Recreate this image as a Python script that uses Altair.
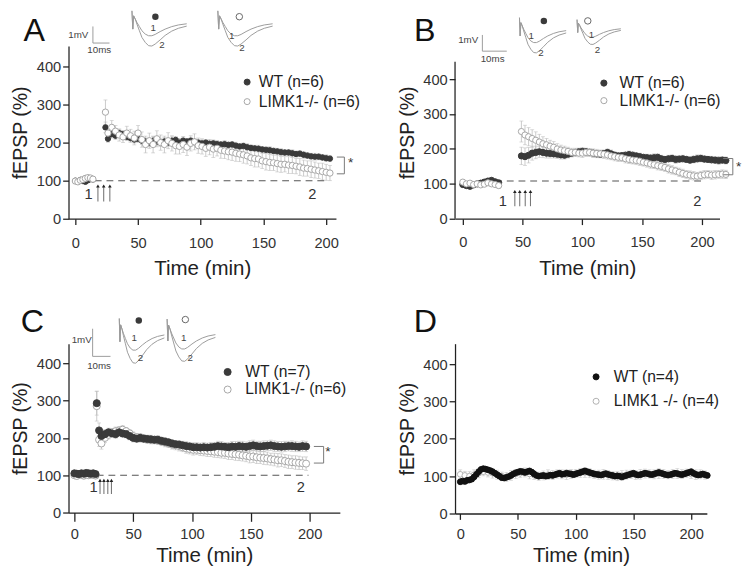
import altair as alt
import pandas as pd

FONT = "Liberation Sans"

# ---------------- Panel A ----------------
a_pre_t = [0, 2, 4, 6, 8, 10, 12, 14]
a_pre_wt = [100, 98, 102, 99, 97, 101, 104, 103]
a_pre_wt_err = [5, 4, 5, 4, 5, 4, 5, 5]
a_pre_ko = [99, 97, 101, 103, 106, 108, 107, 104]
a_pre_ko_err = [6, 5, 6, 6, 7, 6, 6, 6]
a_post_t = [24, 26, 29, 32, 35, 38, 41, 44, 47, 50,
            53, 56, 59, 62, 65, 68, 71, 74, 77, 80,
            83, 86, 89, 92, 95, 98, 101, 104, 107, 110,
            113, 116, 119, 122, 125, 128, 131, 134, 137, 140,
            143, 146, 149, 152, 155, 158, 161, 164, 167, 170,
            173, 176, 179, 182, 185, 188, 191, 194, 197, 200,
            203]
a_post_wt = [240, 210, 222, 218, 225, 222, 215, 212, 208, 210,
             205, 203, 200, 205, 202, 200, 203, 200, 205, 207,
             200, 205, 203, 205, 202, 200, 198, 200, 197, 198,
             196, 195, 196, 194, 195, 192, 190, 191, 188, 186,
             185, 184, 182, 181, 180, 178, 177, 175, 174, 174,
             172, 170, 171, 168, 166, 164, 163, 163, 161, 159,
             158]
a_post_wt_err = [14, 9, 10, 10, 9, 10, 9, 10, 9, 10,
                 10, 9, 10, 10, 9, 10, 10, 9, 10, 9,
                 10, 9, 8, 9, 8, 8, 9, 8, 8, 9,
                 8, 8, 9, 8, 8, 9, 8, 8, 9, 8,
                 8, 9, 8, 8, 9, 8, 8, 9, 8, 8,
                 9, 8, 8, 9, 8, 8, 9, 8, 8, 9,
                 8]
a_post_ko = [280, 225, 240, 230, 220, 215, 225, 218, 212, 225,
             208, 195, 205, 195, 210, 200, 195, 205, 198, 192,
             190, 195, 188, 198, 202, 192, 190, 185, 188, 183,
             185, 180, 178, 176, 175, 172, 170, 168, 165, 160,
             158, 157, 152, 150, 148, 147, 145, 143, 143, 141,
             140, 138, 136, 133, 132, 130, 128, 126, 124, 122,
             120]
a_post_ko_err = [32, 16, 18, 15, 16, 15, 18, 17, 18, 20,
                 20, 22, 20, 22, 21, 20, 22, 21, 20, 22,
                 20, 21, 22, 20, 21, 20, 20, 21, 20, 22,
                 20, 21, 20, 21, 22, 21, 20, 22, 21, 20,
                 22, 21, 20, 22, 21, 20, 22, 21, 20, 22,
                 21, 20, 22, 21, 20, 22, 21, 20, 22, 21,
                 20]

# ---------------- Panel B ----------------
b_pre_t = [0, 3, 6, 9, 12, 15, 18, 21, 24, 27, 30]
b_pre_wt = [98, 95, 93, 97, 100, 102, 105, 108, 110, 106, 103]
b_pre_wt_err = [6, 5, 5, 5, 6, 5, 6, 6, 8, 7, 6]
b_pre_ko = [105, 100, 102, 98, 100, 97, 99, 103, 100, 98, 95]
b_pre_ko_err = [6, 6, 5, 6, 5, 6, 6, 6, 7, 6, 8]
b_post_t = [49, 52, 55, 58, 61, 64, 67, 70, 73, 76,
            79, 82, 85, 88, 91, 94, 97, 100, 103, 106,
            109, 112, 115, 118, 121, 124, 127, 130, 133, 136,
            139, 142, 145, 148, 151, 154, 157, 160, 163, 166,
            169, 172, 175, 178, 181, 184, 187, 190, 193, 196,
            199, 202, 205, 208, 211, 214, 217, 220]
b_post_wt = [180, 178, 182, 188, 190, 192, 190, 188, 187, 186,
             185, 183, 182, 185, 188, 190, 192, 193, 192, 190,
             188, 186, 185, 187, 190, 186, 182, 180, 181, 182,
             184, 182, 180, 178, 176, 175, 174, 175, 176, 172,
             170, 172, 173, 170, 171, 172, 170, 168, 170, 172,
             173, 171, 170, 169, 168, 167, 168, 167]
b_post_wt_err = [25, 25, 22, 20, 18, 16, 15, 14, 13, 12,
                 12, 12, 11, 11, 11, 10, 10, 11, 10, 10,
                 11, 10, 10, 9, 10, 11, 10, 10, 9, 10,
                 10, 11, 10, 10, 9, 10, 10, 11, 10, 10,
                 9, 10, 10, 11, 10, 10, 9, 10, 10, 11,
                 10, 10, 9, 10, 10, 11, 10, 10]
b_post_ko = [250, 240, 235, 230, 225, 220, 215, 212, 208, 205,
             200, 197, 195, 193, 190, 190, 188, 188, 190, 190,
             188, 187, 186, 185, 183, 180, 178, 176, 175, 172,
             170, 168, 167, 165, 162, 160, 157, 155, 152, 150,
             147, 143, 140, 137, 133, 130, 127, 125, 123, 122,
             124, 126, 127, 125, 126, 127, 128, 127]
b_post_ko_err = [30, 28, 26, 25, 24, 22, 20, 18, 17, 16,
                 15, 14, 13, 12, 12, 12, 11, 12, 12, 11,
                 12, 12, 11, 12, 12, 11, 12, 12, 11, 12,
                 12, 11, 12, 12, 11, 12, 12, 11, 12, 12,
                 11, 12, 12, 11, 12, 12, 11, 12, 12, 11,
                 12, 12, 11, 12, 12, 11, 12, 12]

# ---------------- Panel C ----------------
c_pre_t = [0, 2, 4, 6, 8, 10, 12, 14, 16, 18]
c_pre_wt = [105, 104, 103, 105, 104, 106, 105, 104, 105, 103]
c_pre_wt_err = [8, 7, 8, 7, 8, 7, 8, 7, 8, 7]
c_pre_ko = [100, 98, 102, 101, 99, 103, 100, 102, 101, 99]
c_pre_ko_err = [9, 8, 9, 8, 9, 8, 9, 8, 9, 8]
c_post_t = [19, 21, 23, 26, 29, 32, 35, 38, 41, 44,
            47, 50, 53, 56, 59, 62, 65, 68, 71, 74,
            77, 80, 83, 86, 89, 92, 95, 98, 101, 104,
            107, 110, 113, 116, 119, 122, 125, 128, 131, 134,
            137, 140, 143, 146, 149, 152, 155, 158, 161, 164,
            167, 170, 173, 176, 179, 182, 185, 188, 191, 194,
            197]
c_post_wt = [293, 220, 205, 210, 215, 212, 210, 215, 212, 210,
             205, 200, 198, 200, 198, 197, 196, 195, 195, 192,
             190, 188, 185, 183, 182, 180, 178, 177, 175, 175,
             174, 175, 174, 175, 176, 178, 177, 176, 175, 177,
             176, 178, 177, 176, 178, 180, 178, 177, 178, 179,
             180, 178, 177, 176, 177, 178, 178, 177, 176, 178,
             177]
c_post_wt_err = [32, 20, 15, 12, 11, 10, 11, 10, 11, 10,
                 10, 11, 10, 11, 10, 10, 11, 10, 11, 10,
                 11, 10, 11, 10, 11, 11, 12, 11, 12, 12,
                 12, 13, 12, 13, 12, 13, 13, 12, 13, 13,
                 14, 13, 14, 13, 14, 14, 13, 14, 14, 13,
                 14, 14, 13, 14, 14, 13, 14, 14, 13, 14,
                 14]
c_post_ko = [285, 195, 185, 200, 208, 215, 218, 220, 222, 218,
             212, 205, 202, 200, 198, 196, 195, 194, 193, 190,
             188, 185, 182, 180, 178, 175, 172, 170, 168, 168,
             167, 166, 165, 164, 163, 162, 160, 160, 158, 157,
             156, 155, 153, 152, 150, 150, 148, 147, 146, 145,
             143, 142, 140, 140, 138, 136, 135, 134, 133, 132,
             131]
c_post_ko_err = [40, 18, 15, 12, 11, 10, 11, 10, 11, 10,
                 10, 11, 10, 11, 10, 11, 11, 10, 11, 11,
                 12, 11, 12, 12, 13, 12, 13, 13, 14, 13,
                 14, 14, 15, 14, 15, 15, 14, 15, 16, 15,
                 16, 16, 15, 16, 17, 16, 17, 16, 17, 17,
                 16, 17, 18, 17, 17, 18, 17, 18, 18, 17,
                 18]

# ---------------- Panel D ----------------
d_wt_t = [0, 2, 4, 6, 8, 10, 12, 14, 16, 18, 20, 22, 24, 26, 28, 30, 32, 34,
          36, 38, 40, 42, 44, 46, 48, 50, 52, 54, 56, 58, 60, 62, 64, 66,
          68, 70, 72, 74, 76, 78, 80, 82, 84, 86, 88, 90, 92, 94, 96, 98, 100,
          102, 104, 106, 108, 110, 112, 114, 116, 118, 120,
          122, 124, 126, 128, 130, 132, 134, 136, 138, 140,
          142, 144, 146, 148, 150, 152, 154, 156, 158, 160,
          162, 164, 166, 168, 170, 172, 174, 176, 178, 180,
          182, 184, 186, 188, 190, 192, 194, 196, 198, 200,
          202, 204, 206, 208, 210, 212, 214]
d_wt = [85, 87, 86, 89, 90, 92, 98, 105, 112, 118, 120, 119, 117, 115, 112, 108, 104, 100,
        96, 95, 97, 99, 102, 106, 109, 111, 113, 112, 110, 112, 114, 111, 106, 102,
        100, 101, 102, 100, 101, 103, 102, 104, 106, 108, 105, 106, 108, 107, 106, 104, 106,
        108, 110, 112, 114, 112, 110, 108, 106, 105, 104,
        103, 105, 107, 105, 103, 102, 100, 101, 100, 98,
        100, 102, 104, 106, 108, 105, 103, 104, 106, 108,
        107, 105, 104, 106, 108, 110, 108, 106, 104, 103,
        104, 106, 108, 107, 105, 104, 106, 108, 110, 112,
        108, 105, 103, 104, 106, 104, 102]
d_wt_err = [8, 7, 8, 7, 8, 7, 8, 7, 8, 7, 8, 7, 8, 7, 8, 7, 8, 7,
            8, 7, 8, 7, 8, 7, 8, 7, 8, 7, 8, 7, 8, 7, 8, 7,
            8, 7, 8, 7, 8, 7, 8, 7, 8, 7, 8, 7, 8, 7, 8, 7, 8,
            7, 8, 7, 8, 7, 8, 7, 8, 7, 8,
            7, 8, 7, 8, 7, 8, 7, 8, 7, 8,
            7, 8, 7, 8, 7, 8, 7, 8, 7, 8,
            7, 8, 7, 8, 7, 8, 7, 8, 7, 8,
            7, 8, 7, 8, 7, 8, 7, 8, 7, 8,
            7, 8, 7, 8, 7, 8, 7]
d_ko_t = [0, 4, 8, 12, 16, 20, 24, 28, 32, 36, 40, 44, 48, 52, 56, 60, 64, 68,
          72, 76, 80, 84, 88, 92, 96, 100, 104, 108, 112, 116, 120, 124, 128, 132,
          136, 140, 144, 148, 152, 156, 160, 164, 168, 172, 176, 180, 184, 188,
          192, 196, 200, 204, 208, 212]
d_ko = [105, 102, 100, 104, 108, 112, 110, 108, 104, 100, 98, 102, 106, 108, 110, 106, 103, 100,
        102, 104, 103, 106, 105, 104, 106, 107, 109, 110, 108, 105, 104, 105, 103, 101,
        100, 102, 104, 105, 103, 105, 107, 106, 105, 107, 106, 104, 106, 107,
        106, 108, 106, 104, 105, 103]
d_ko_err = [12, 11, 12, 13, 12, 11, 12, 13, 12, 11, 12, 13, 12, 11, 12, 13, 12, 11,
            12, 13, 12, 11, 12, 13, 12, 11, 12, 13, 12, 11, 12, 13, 12, 11,
            12, 13, 12, 11, 12, 13, 12, 11, 12, 13, 12, 11, 12, 13,
            12, 11, 12, 13, 12, 11]

# ---------------- Inset fEPSP waveform (ms, mV) ----------------
trace_ms = [0, 0.5, 1.0, 2.0, 3.0, 4.5, 6, 8, 10, 12, 14, 17, 20, 24, 28, 33]
trace1_mv = [0.5, -0.6, 0.2, 0.0, -0.2, -0.45, -0.7, -0.9, -1.0, -1.0, -0.92, -0.75, -0.6, -0.45, -0.35, -0.28]
trace2_mv = [0.5, -0.6, 0.2, 0.0, -0.3, -0.7, -1.1, -1.4, -1.6, -1.62, -1.5, -1.25, -0.98, -0.72, -0.55, -0.42]

X_TICKS = [0, 50, 100, 150, 200]
Y_TICKS = [0, 100, 200, 300, 400]


def series_df(t, v, e, label):
    return pd.DataFrame({"t": t, "v": v,
                         "lo": [a - b for a, b in zip(v, e)],
                         "hi": [a + b for a, b in zip(v, e)],
                         "series": label})


def px2data(P, rx, ry):
    x0, x1 = P["xdom"]
    y0, y1 = P["ydom"]
    return x0 + rx * (x1 - x0) / P["w"], y1 - ry * (y1 - y0) / P["h"]


PANELS = [
    dict(letter="A", lpos=(-35, -5), w=274, h=177, xdom=[-5.45, 207.8], ydom=[0, 453.8],
         wt_label="WT (n=6)", ko_label="LIMK1-/- (n=6)",
         wt=(a_pre_t + a_post_t, a_pre_wt + a_post_wt, a_pre_wt_err + a_post_wt_err),
         ko=(a_pre_t + a_post_t, a_pre_ko + a_post_ko, a_pre_ko_err + a_post_ko_err),
         wt_col="#3a3a3a", ko_col="#a6a6a6", err_col="#bcbcbc", wt_size=30, ko_size=42, ko_on_top=True,
         leg=(175, 29, 38, 4, 4), xtick=6, xlabpad=11, xtitlepad=8, yaxis_rule=None,
         dash=(15.5, 199, 100), arrows=([18, 22.6, 27.5], 45, 86),
         nums=[(10.6, 66, "1"), (189, 66, "2")],
         bracket=(214.5, 208.5, 162, 118), star=(219.5, 146),
         insets=[(65, -27.5, 1.7, 17), (153, -27.5, 1.7, 17)],
         scalebar=(25, -20, -3, 42),
         itexts=[(10, -11.5, "1mV"), (31.5, 3.7, "10ms"), (86.7, -18, "1"), (95.7, -1.3, "2"),
                 (167.3, -9.7, "1"), (177.7, 2, "2")],
         imarks=[(89, -30), (175, -30)]),
    dict(letter="B", lpos=(-31, -5), w=271, h=177, xdom=[-6.5, 214.7], ydom=[0, 495.1],
         wt_label="WT (n=6)", ko_label="LIMK1-/- (n=6)",
         wt=(b_pre_t + b_post_t, b_pre_wt + b_post_wt, b_pre_wt_err + b_post_wt_err),
         ko=(b_pre_t + b_post_t, b_pre_ko + b_post_ko, b_pre_ko_err + b_post_ko_err),
         wt_col="#3a3a3a", ko_col="#a6a6a6", err_col="#bcbcbc", wt_size=40, ko_size=40, ko_on_top=True,
         leg=(144.5, 30, 40, 2, 8), xtick=6, xlabpad=10, xtitlepad=9, yaxis_rule=450,
         dash=(27, 202, 108), arrows=([43.5, 47.6, 52.2, 56.6], 36, 78),
         nums=[(33.5, 50, "1"), (196, 50, "2")],
         bracket=(225.8, 217.7, 172.6, 126), star=(230.7, 149),
         insets=[(66, -20.5, 1.45, 17), (125, -21, 1.36, 12)],
         scalebar=(28, -11.3, 5.3, 53),
         itexts=[(13.5, -6, "1mV"), (38.5, 13.7, "10ms"), (78, -9.7, "1"), (88, 7, "2"),
                 (139.7, -11.3, "1"), (146, 3.7, "2")],
         imarks=[(91, -25.7), (136, -25.7)]),
    dict(letter="C", lpos=(-37, -12), w=278, h=173, xdom=[-5, 225.7], ydom=[0, 452.3],
         wt_label="WT (n=7)", ko_label="LIMK1-/- (n=6)",
         wt=(c_pre_t + c_post_t, c_pre_wt + c_post_wt, c_pre_wt_err + c_post_wt_err),
         ko=(c_pre_t + c_post_t, c_pre_ko + c_post_ko, c_pre_ko_err + c_post_ko_err),
         wt_col="#3a3a3a", ko_col="#a6a6a6", err_col="#bcbcbc", wt_size=52, ko_size=52, ko_on_top=False,
         leg=(155, 21, 52, 2, 10), xtick=9, xlabpad=6, xtitlepad=3, yaxis_rule=None,
         dash=(19, 199, 100), arrows=([21.8, 25.1, 28.4, 31.5], 50, 86),
         nums=[(16.3, 68, "1"), (192.5, 68, "2")],
         bracket=(211.9, 203.6, 177, 132.5), star=(215.5, 161),
         insets=[(52, -15, 1.4, 21.6), (101, -15, 1.5, 20.4)],
         scalebar=(24.7, -15.3, 13, 43),
         itexts=[(13.5, -3.7, "1mV"), (31.3, 23, "10ms"), (67.3, -5.3, "1"), (73.7, 14.7, "2"),
                 (118, -5.3, "1"), (124.7, 14.7, "2")],
         imarks=[(72, -23.7), (119.7, -24.7)]),
    dict(letter="D", lpos=(-30.5, -12), w=258, h=174, xdom=[-4.5, 213.6], ydom=[0, 454.9],
         wt_label="WT (n=4)", ko_label="LIMK1 -/- (n=4)",
         wt=(d_wt_t, d_wt, d_wt_err),
         ko=(d_ko_t, d_ko, d_ko_err),
         wt_col="#111111", ko_col="#b0b0b0", err_col="#c4c4c4", wt_size=34, ko_size=34, ko_on_top=False,
         leg=(136.5, 26, 38, 9, 10), xtick=6, xlabpad=8, xtitlepad=3, yaxis_rule=None,
         dash=None, arrows=None, nums=[], bracket=None, star=None,
         insets=[], scalebar=None, itexts=[], imarks=[]),
]


def make_panel(P):
    xs = alt.Scale(domain=P["xdom"], nice=False, zero=False)
    ys = alt.Scale(domain=P["ydom"], nice=False, zero=False)
    xax = alt.Axis(values=X_TICKS, title="Time (min)", tickSize=P["xtick"],
                   labelPadding=P["xlabpad"], titlePadding=P["xtitlepad"], titleFontWeight=400,
                   titleFontSize=21)
    yax = alt.Axis(values=Y_TICKS, title="fEPSP (%)", tickSize=6, labelPadding=2,
                   titlePadding=6, titleFontWeight=400, titleFontSize=20,
                   domain=P["yaxis_rule"] is None)

    def X(f):
        return alt.X(f, type="quantitative", scale=xs, axis=xax)

    def Y(f):
        return alt.Y(f, type="quantitative", scale=ys, axis=yax)

    dom = [P["wt_label"], P["ko_label"]]
    lx, ly, ss, rp, lo = P["leg"]
    legend = alt.Legend(orient="none", legendX=lx, legendY=ly, title=None, labelFont=FONT,
                        labelFontSize=16, labelColor="#222", symbolSize=ss, symbolStrokeWidth=1,
                        rowPadding=rp, labelOffset=lo, padding=0, symbolType="circle")
    fill = alt.Fill("series:N", scale=alt.Scale(domain=dom, range=[P["wt_col"], "#ffffff"]), legend=legend)
    stroke = alt.Stroke("series:N", scale=alt.Scale(domain=dom, range=[P["wt_col"], P["ko_col"]]), legend=legend)

    wt = series_df(*P["wt"], P["wt_label"])
    ko = series_df(*P["ko"], P["ko_label"])

    layers = []
    if P["yaxis_rule"] is not None:
        ydf = pd.DataFrame({"t": [P["xdom"][0]], "v0": [0], "v1": [P["yaxis_rule"]]})
        layers.append(alt.Chart(ydf).mark_rule(color="#222", strokeWidth=1.3).encode(
            x=X("t"), y=Y("v0"), y2=alt.Y2("v1")))

    for df in (wt, ko):
        layers.append(alt.Chart(df).mark_rule(color=P["err_col"], strokeWidth=0.8).encode(
            x=X("t"), y=Y("lo"), y2=alt.Y2("hi")))
        for f in ("lo", "hi"):
            layers.append(alt.Chart(df).mark_tick(color=P["err_col"], orient="horizontal",
                                                  size=4, thickness=0.8).encode(x=X("t"), y=Y(f)))

    if P["dash"] is not None:
        t1, t2, lv = P["dash"]
        ddf = pd.DataFrame({"t1": [t1], "t2": [t2], "v": [lv]})
        layers.append(alt.Chart(ddf).mark_rule(color="#555", strokeWidth=1.1, strokeDash=[7, 5]).encode(
            x=X("t1"), x2=alt.X2("t2"), y=Y("v")))

    def pts(df, size):
        return alt.Chart(df).mark_point(shape="circle", size=size, strokeWidth=1, opacity=1).encode(
            x=X("t"), y=Y("v"), fill=fill, stroke=stroke)

    if P["ko_on_top"]:
        layers += [pts(wt, P["wt_size"]), pts(ko, P["ko_size"])]
    else:
        layers += [pts(ko, P["ko_size"]), pts(wt, P["wt_size"])]

    if P["arrows"] is not None:
        at, alo, ahi = P["arrows"]
        adf = pd.DataFrame({"t": at, "v0": [alo] * len(at), "v1": [ahi] * len(at)})
        layers.append(alt.Chart(adf).mark_rule(color="#777", strokeWidth=1.1).encode(
            x=X("t"), y=Y("v0"), y2=alt.Y2("v1")))
        layers.append(alt.Chart(adf).mark_point(shape="triangle-up", filled=True, size=14,
                                                color="#222", opacity=1).encode(x=X("t"), y=Y("v1")))

    if P["nums"]:
        ndf = pd.DataFrame(P["nums"], columns=["t", "v", "txt"])
        layers.append(alt.Chart(ndf).mark_text(font=FONT, fontSize=15, color="#333").encode(
            x=X("t"), y=Y("v"), text="txt:N"))

    if P["bracket"] is not None:
        tb, tl, top, bot = P["bracket"]
        bdf = pd.DataFrame({"t1": [tb, tl, tl], "t2": [tb, tb, tb],
                            "v1": [top, top, bot], "v2": [bot, top, bot]})
        layers.append(alt.Chart(bdf).mark_rule(color="#777", strokeWidth=1).encode(
            x=X("t1"), x2=alt.X2("t2"), y=Y("v1"), y2=alt.Y2("v2")))
        sdf = pd.DataFrame({"t": [P["star"][0]], "v": [P["star"][1]], "txt": ["*"]})
        layers.append(alt.Chart(sdf).mark_text(font=FONT, fontSize=14, color="#333").encode(
            x=X("t"), y=Y("v"), text="txt:N"))

    # inset traces
    if P["insets"]:
        rows = []
        for k, (ox, oy, sx, sy) in enumerate(P["insets"]):
            for name, wave in (("1", trace1_mv), ("2", trace2_mv)):
                for j, (ms, mv) in enumerate(zip(trace_ms, wave)):
                    t, v = px2data(P, ox + ms * sx, oy - mv * sy)
                    rows.append({"t": t, "v": v, "id": f"{k}-{name}", "k": j})
        sbx, sbt, sbb, sbr = P["scalebar"]
        for j, (rx, ry) in enumerate([(sbx, sbt), (sbx, sbb), (sbr, sbb)]):
            t, v = px2data(P, rx, ry)
            rows.append({"t": t, "v": v, "id": "bar", "k": j})
        idf = pd.DataFrame(rows)
        layers.append(alt.Chart(idf).mark_line(color="#9a9a9a", strokeWidth=1).encode(
            x=X("t"), y=Y("v"), detail="id:N", order="k:Q"))
        trows = []
        for rx, ry, txt in P["itexts"]:
            t, v = px2data(P, rx, ry)
            trows.append({"t": t, "v": v, "txt": txt})
        layers.append(alt.Chart(pd.DataFrame(trows)).mark_text(font=FONT, fontSize=10, color="#444").encode(
            x=X("t"), y=Y("v"), text="txt:N"))
        (fx, fy), (ox_, oy_) = P["imarks"]
        t, v = px2data(P, fx, fy)
        layers.append(alt.Chart(pd.DataFrame({"t": [t], "v": [v]})).mark_point(
            shape="circle", size=44, filled=True, color="#3a3a3a", opacity=1).encode(x=X("t"), y=Y("v")))
        t, v = px2data(P, ox_, oy_)
        layers.append(alt.Chart(pd.DataFrame({"t": [t], "v": [v]})).mark_point(
            shape="circle", size=44, fill="#ffffff", stroke="#666", strokeWidth=1, opacity=1).encode(
            x=X("t"), y=Y("v")))

    # panel letter
    lt, lv = px2data(P, *P["lpos"])
    ldf = pd.DataFrame({"t": [lt], "v": [lv], "txt": [P["letter"]]})
    layers.append(alt.Chart(ldf).mark_text(font=FONT, fontSize=33, color="#111", align="center",
                                           baseline="alphabetic").encode(
        x=X("t"), y=Y("v"), text="txt:N"))

    return alt.layer(*layers).properties(width=P["w"], height=P["h"])


panels = [make_panel(P) for P in PANELS]

chart = alt.concat(*panels, columns=2, spacing={"row": 128, "column": 118}, bounds="flush").resolve_scale(
    fill="independent", stroke="independent"
).properties(
    padding={"left": 2, "top": -7, "right": 0, "bottom": 0}
).configure_view(stroke=None).configure_axis(
    grid=False, domainColor="#222", domainWidth=1.3, tickColor="#222", tickWidth=1.3,
    labelFont=FONT, labelFontSize=15, labelColor="#333",
    titleFont=FONT, titleFontSize=19, titleFontWeight=400, titleColor="#222"
)

chart.save("out.html", embed_options={"renderer": "svg", "actions": False})
